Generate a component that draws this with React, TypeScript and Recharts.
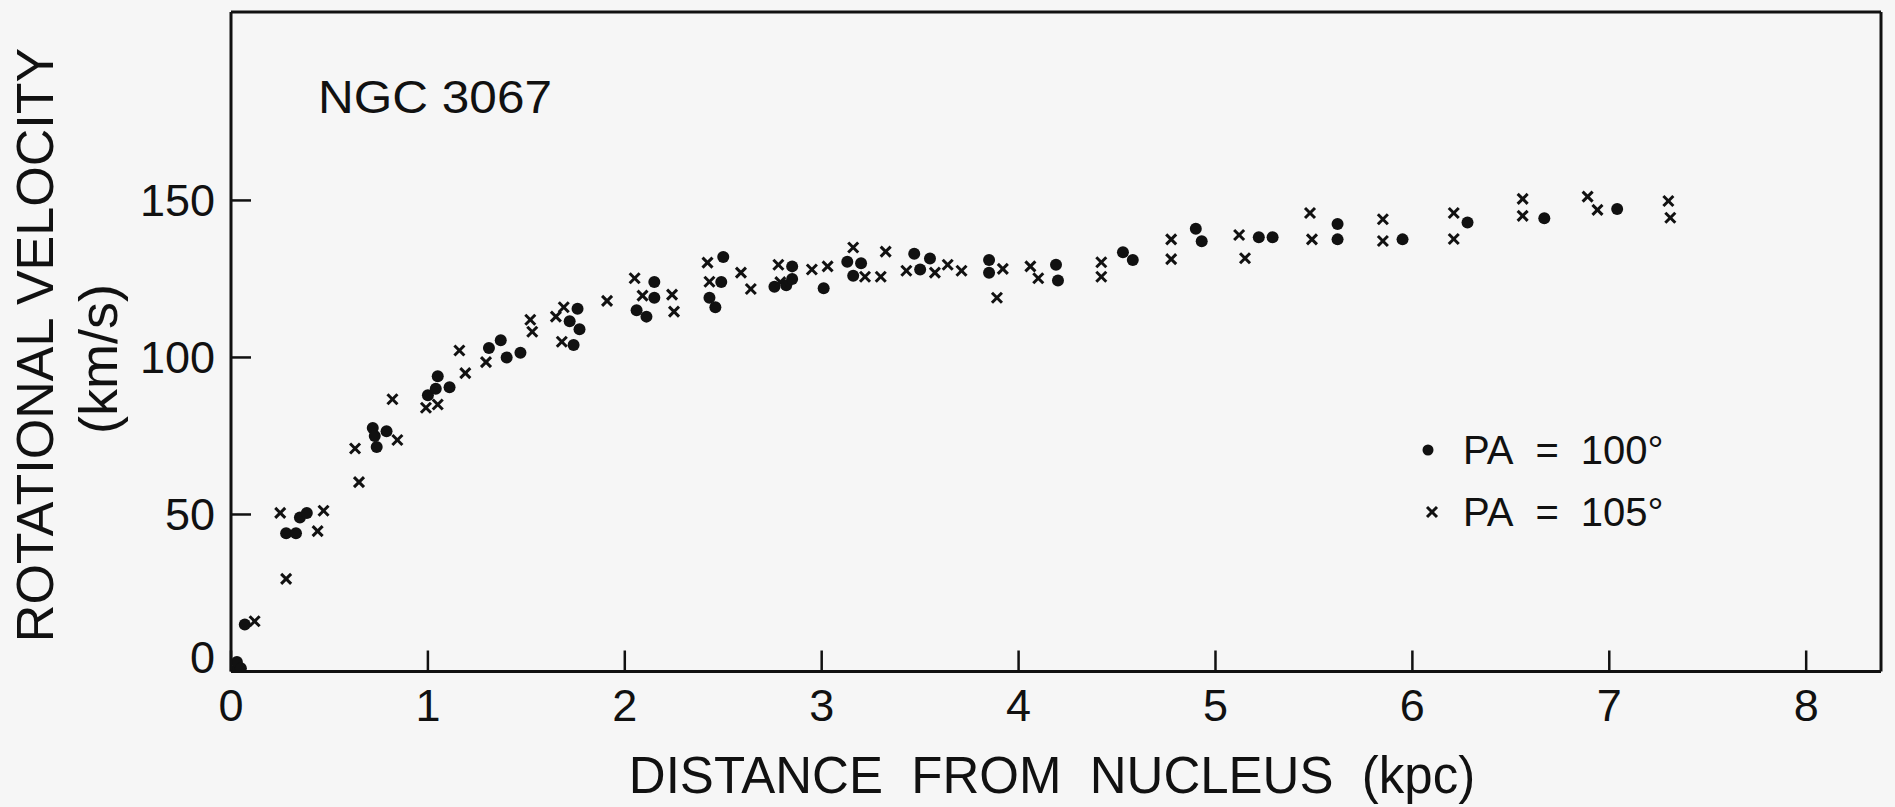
import { ScatterChart, Scatter, XAxis, YAxis, Legend } from 'recharts'

// PA = 100° (filled dots)
const pa100Dist = [
  0.01, 0.03, 0.05, 0.07,
  0.28, 0.33, 0.35, 0.385,
  0.72, 0.73, 0.74, 0.79,
  1.0, 1.04, 1.05, 1.11,
  1.31, 1.37, 1.4, 1.47,
  1.72, 1.74, 1.76, 1.77,
  2.06, 2.11, 2.15, 2.15,
  2.43, 2.46, 2.49, 2.5,
  2.76, 2.82, 2.85, 2.85,
  3.01, 3.13, 3.16, 3.2,
  3.47, 3.5, 3.55,
  3.85, 3.85,
  4.19, 4.2,
  4.53, 4.58,
  4.9, 4.93,
  5.22, 5.29,
  5.62, 5.62,
  5.95, 6.28, 6.67, 7.04,
]
const pa100Vel = [
  0, 3, 1, 15,
  44, 44, 49, 50.5,
  77.5, 75, 71.5, 76.5,
  88, 90, 94, 90.5,
  103, 105.5, 100, 101.5,
  111.5, 104, 115.5, 109,
  115, 113, 124, 119,
  119, 116, 124, 132,
  122.5, 123, 125, 129,
  122, 130.5, 126, 130,
  133, 128, 131.5,
  131, 127,
  129.5, 124.5,
  133.5, 131,
  141, 137,
  138.3, 138.3,
  142.5, 137.6,
  137.6, 143, 144.3, 147.3,
]

// PA = 105° (crosses)
const pa105Dist = [
  0.12, 0.25, 0.28, 0.44, 0.47,
  0.63, 0.65, 0.82, 0.845,
  0.99, 1.05, 1.16, 1.19,
  1.295, 1.52, 1.53, 1.65, 1.68, 1.69,
  1.91, 2.05, 2.09, 2.24, 2.25,
  2.42, 2.43, 2.59, 2.64, 2.78, 2.79,
  2.95, 3.03, 3.16, 3.22, 3.3, 3.325,
  3.43, 3.575, 3.64, 3.71,
  3.89, 3.92, 4.06, 4.1,
  4.42, 4.42, 4.775, 4.775,
  5.12, 5.15, 5.48, 5.49,
  5.85, 5.85, 6.21, 6.21,
  6.56, 6.56, 6.89, 6.94,
  7.3, 7.31,
]
const pa105Vel = [
  16, 50.5, 29.5, 44.7, 51.2,
  71, 60.3, 86.7, 73.7,
  84, 85, 102.2, 95,
  98.5, 112, 108.2, 113, 105, 116,
  118, 125.2, 119.7, 120, 114.6,
  130.2, 124.1, 127, 121.8, 129.5, 124,
  128, 129, 135, 125.7, 125.7, 133.7,
  127.6, 127, 129.5, 127.6,
  119, 128.2, 129, 125.2,
  130.3, 125.7, 137.6, 131.3,
  139, 131.6, 146, 137.6,
  144, 137.1, 146, 137.7,
  150.5, 145.1, 151.2, 147,
  149.8, 144.5,
]

const xTicks = [0, 1, 2, 3, 4, 5, 6, 7, 8]
const yTicks = [0, 50, 100, 150]

const pa100 = pa100Dist.map((d, i) => ({ d, v: pa100Vel[i] }))
const pa105 = pa105Dist.map((d, i) => ({ d, v: pa105Vel[i] }))

const INK = '#111'
const FONT = '"Liberation Sans", Arial, Helvetica, sans-serif'

const DotShape = (p: any) => <circle cx={p.cx} cy={p.cy} r={6} fill={INK} />

const CrossShape = (p: any) => {
  const s = 5
  return (
    <g stroke={INK} strokeWidth={3}>
      <line x1={p.cx - s} y1={p.cy - s} x2={p.cx + s} y2={p.cy + s} />
      <line x1={p.cx - s} y1={p.cy + s} x2={p.cx + s} y2={p.cy - s} />
    </g>
  )
}

const BottomTick = (p: any) => (
  <g>
    <line x1={p.x} y1={p.y} x2={p.x} y2={p.y - 21} stroke={INK} strokeWidth={2.5} />
    <text x={p.x} y={p.y + 34} textAnchor="middle" dominantBaseline="central" fontSize={45} fontFamily={FONT} fill={INK}>
      {p.payload.value}
    </text>
  </g>
)

const TopTick = (p: any) => (
  <line x1={p.x} y1={p.y} x2={p.x} y2={p.y + 21} stroke={INK} strokeWidth={2.5} />
)

const LeftTick = (p: any) => (
  <g>
    <line x1={p.x} y1={p.y} x2={p.x + 20} y2={p.y} stroke={INK} strokeWidth={2.5} />
    <text
      x={p.x - 16}
      y={p.payload.value === 0 ? p.y - 14 : p.y}
      textAnchor="end"
      dominantBaseline="central"
      fontSize={45}
      fontFamily={FONT}
      fill={INK}
    >
      {p.payload.value}
    </text>
  </g>
)

const RightTick = (p: any) => (
  <line x1={p.x} y1={p.y} x2={p.x - 20} y2={p.y} stroke={INK} strokeWidth={2.5} />
)

const legendText = { fontFamily: FONT, fontSize: 40, color: INK }

const LegendBox = () => (
  <div style={{ ...legendText, lineHeight: '62px' }}>
    <div style={{ display: 'flex', alignItems: 'center', height: 62 }}>
      <svg width={48} height={20}>
        <circle cx={13} cy={10} r={5.5} fill={INK} />
      </svg>
      <span>PA</span>
      <span style={{ marginLeft: 22 }}>=</span>
      <span style={{ marginLeft: 22 }}>100°</span>
    </div>
    <div style={{ display: 'flex', alignItems: 'center', height: 62 }}>
      <svg width={48} height={20}>
        <g stroke={INK} strokeWidth={3}>
          <line x1={12} y1={5} x2={22} y2={15} />
          <line x1={12} y1={15} x2={22} y2={5} />
        </g>
      </svg>
      <span>PA</span>
      <span style={{ marginLeft: 22 }}>=</span>
      <span style={{ marginLeft: 22 }}>105°</span>
    </div>
  </div>
)

export default function App() {
  return (
    <div style={{ position: 'absolute', left: 0, top: 0, width: 1895, height: 807, background: '#f6f6f6' }}>
      <ScatterChart width={1895} height={807} margin={{ top: 11, right: 13, bottom: 134.5, left: 230 }}>
        <XAxis
          xAxisId={0}
          type="number"
          dataKey="d"
          domain={[0, 8.38]}
          ticks={xTicks}
          height={1}
          tickSize={0}
          tickMargin={0}
          tickLine={false}
          axisLine={{ stroke: INK, strokeWidth: 3 }}
          tick={BottomTick}
          allowDataOverflow
        />
        <XAxis
          xAxisId="top"
          orientation="top"
          type="number"
          domain={[0, 8.38]}
          ticks={xTicks}
          height={1}
          tickSize={0}
          tickMargin={0}
          tickLine={false}
          axisLine={{ stroke: INK, strokeWidth: 3 }}
          tick={TopTick}
        />
        <YAxis
          yAxisId={0}
          type="number"
          dataKey="v"
          domain={[0, 210]}
          ticks={yTicks}
          width={1}
          tickSize={0}
          tickMargin={0}
          tickLine={false}
          axisLine={{ stroke: INK, strokeWidth: 3 }}
          tick={LeftTick}
          allowDataOverflow
        />
        <YAxis
          yAxisId="right"
          orientation="right"
          type="number"
          domain={[0, 210]}
          ticks={yTicks}
          width={1}
          tickSize={0}
          tickMargin={0}
          tickLine={false}
          axisLine={{ stroke: INK, strokeWidth: 3 }}
          tick={RightTick}
        />
        <Scatter name="PA = 100°" data={pa100} shape={DotShape} isAnimationActive={false} />
        <Scatter name="PA = 105°" data={pa105} shape={CrossShape} isAnimationActive={false} />
        <Legend
          layout="horizontal"
          verticalAlign="middle"
          align="center"
          content={LegendBox}
          wrapperStyle={{ left: 1415, top: 419, width: 'auto', height: 'auto' }}
        />
        <text x={318} y={97} dominantBaseline="central" fontSize={46} fontFamily={FONT} fill={INK} textLength={234} lengthAdjust="spacingAndGlyphs">
          NGC 3067
        </text>
        <text x={1052} y={775} textAnchor="middle" dominantBaseline="central" fontSize={51} fontFamily={FONT} fill={INK} style={{ whiteSpace: 'pre' }}>
          DISTANCE  FROM  NUCLEUS  (kpc)
        </text>
        <text transform="translate(35 345) rotate(-90)" textAnchor="middle" dominantBaseline="central" fontSize={52} fontFamily={FONT} fill={INK}>
          ROTATIONAL VELOCITY
        </text>
        <text transform="translate(98 359) rotate(-90)" textAnchor="middle" dominantBaseline="central" fontSize={54} fontFamily={FONT} fill={INK}>
          (km/s)
        </text>
      </ScatterChart>
    </div>
  )
}
